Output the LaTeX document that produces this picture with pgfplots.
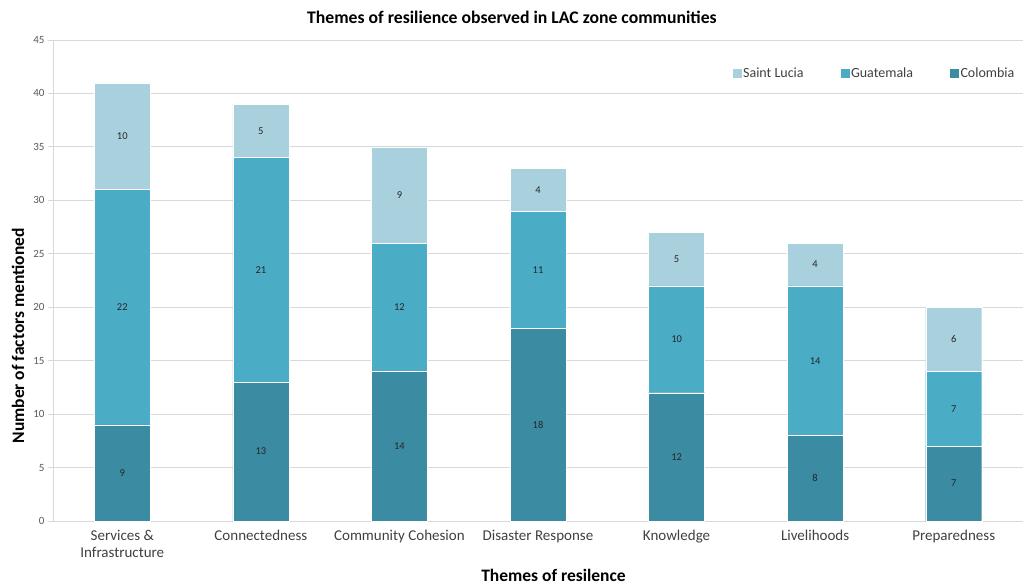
\documentclass[border=0pt]{standalone}
\usepackage{pgfplots}
\pgfplotsset{compat=1.18}
\usepackage{pgfplotstable}
\usepackage{fontspec}
\setmainfont{Carlito}
\definecolor{colC}{HTML}{3B8BA3}
\definecolor{guaC}{HTML}{4BACC6}
\definecolor{stlC}{HTML}{A9D0DD}
\definecolor{gridC}{HTML}{D9D9D9}
\definecolor{txtC}{HTML}{404040}
\pgfplotstableread{
x col gua stl
0 9 22 10
1 13 21 5
2 14 12 9
3 18 11 4
4 12 10 5
5 8 14 4
6 7 7 6
}\datatable
\begin{document}
\begin{tikzpicture}
\useasboundingbox (-53bp,-64bp) rectangle (970bp,521bp);
\begin{axis}[
  at={(0bp,0bp)}, anchor=south west,
  scale only axis, width=970bp, height=481bp,
  ybar stacked, bar width=56bp,
  xmin=-0.5, xmax=6.5, ymin=0, ymax=45,
  ytick={0,5,...,45},
  xtick={0,...,6},
  xticklabels={{Services \&\\Infrastructure},Connectedness,Community Cohesion,Disaster Response,Knowledge,Livelihoods,Preparedness},
  x tick label style={align=center, font=\fontsize{15bp}{17bp}\selectfont, text=txtC, yshift=-6bp},
  y tick label style={font=\fontsize{11bp}{13bp}\selectfont, text=black!65},
  /pgf/number format/assume math mode=true,
  major x tick style={draw=none},
  extra x ticks={-0.5,0.5,...,6.5},
  extra x tick labels={},
  extra x tick style={tick align=outside, major tick length=5bp, tick style={draw=gridC, line width=0.8pt}},
  ytick align=outside, major tick length=5bp,
  ytick style={draw=gridC, line width=0.8pt},
  axis x line*=bottom, axis y line*=left,
  axis line style={draw=gridC, line width=0.8pt, -},
  ymajorgrids, grid style={draw=gridC, line width=0.8pt},
  xlabel={\textbf{Themes of resilence}},
  xlabel style={at={(axis description cs:0.516,0)}, anchor=center, yshift=-54bp, font=\fontsize{17.5bp}{20bp}\selectfont},
  ylabel={\textbf{Number of factors mentioned}},
  ylabel style={at={(axis description cs:-0.0361,0.385)}, anchor=center, font=\fontsize{17.5bp}{20bp}\selectfont},
  legend style={draw=none, fill=none, at={(axis description cs:0.6975,0.931)}, anchor=west,
    font=\fontsize{14bp}{16bp}\selectfont, text=txtC,
    /tikz/every even column/.append style={column sep=35bp}},
  legend columns=3,
  point meta=explicit,
  nodes near coords,
  nodes near coords style={font=\fontsize{10.5bp}{12bp}\selectfont, text=black!85, anchor=center},
]
\addlegendimage{legend image code/.code={\fill[stlC] (0bp,-4bp) rectangle (8bp,4bp);}}
\addlegendimage{legend image code/.code={\fill[guaC] (0bp,-4bp) rectangle (8bp,4bp);}}
\addlegendimage{legend image code/.code={\fill[colC] (0bp,-4bp) rectangle (8bp,4bp);}}
\legend{Saint Lucia, Guatemala, Colombia}
\addplot[fill=colC, draw=white, line width=0.4pt] table[x=x, y=col, meta=col] {\datatable};
\addplot[fill=guaC, draw=white, line width=0.4pt] table[x=x, y=gua, meta=gua] {\datatable};
\addplot[fill=stlC, draw=white, line width=0.4pt] table[x=x, y=stl, meta=stl] {\datatable};
\end{axis}
\node[font=\bfseries\fontsize{17.7bp}{20bp}\selectfont, text=black] at (459bp,504bp) {Themes of resilience observed in LAC zone communities};
\end{tikzpicture}
\end{document}
